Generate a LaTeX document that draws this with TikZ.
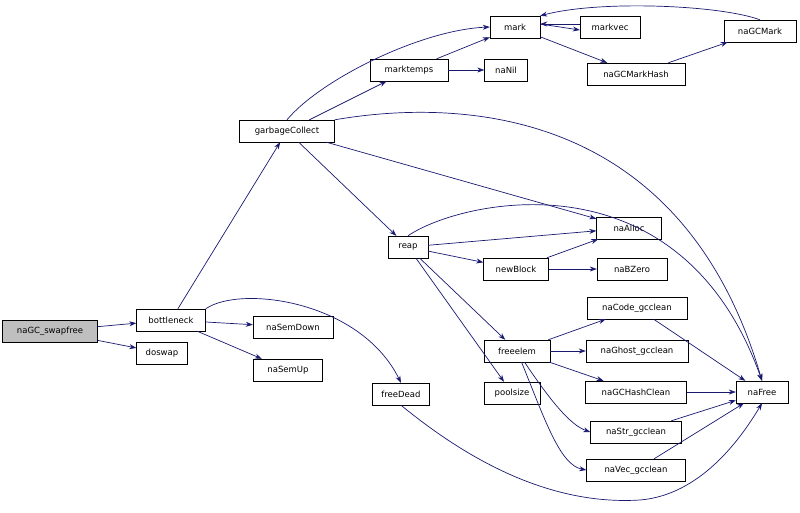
\documentclass[tikz,border=0pt]{standalone}
\usepackage{fontspec}
\setmainfont{DejaVu Sans}
\usetikzlibrary{arrows.meta}
\begin{document}
\begin{tikzpicture}[x=1pt,y=-1pt,
  n/.style={draw=black,fill=white,rectangle,minimum height=22pt,inner sep=2pt,font=\fontsize{8.5}{10}\selectfont},
  e/.style={draw={rgb,255:red,25;green,25;blue,112},-{Stealth[length=7pt,width=5pt]},line width=0.7pt}]
\useasboundingbox (0,0) rectangle (800,512);
\node[n,fill={rgb,255:red,191;green,191;blue,191},minimum width=95pt] (sw) at (50,331) {naGC\_swapfree};
\node[n,minimum width=69pt] (bn) at (171,320) {bottleneck};
\node[n,minimum width=51pt] (ds) at (162,353) {doswap};
\node[n,minimum width=80pt] (sd) at (293,327) {naSemDown};
\node[n,minimum width=69pt] (su) at (288,370) {naSemUp};
\node[n,minimum width=95pt] (gc) at (287,131) {garbageCollect};
\node[n,minimum width=78pt] (mt) at (409,70) {marktemps};
\node[n,minimum width=50pt] (mk) at (515,27) {mark};
\node[n,minimum width=60pt] (mv) at (610,27) {markvec};
\node[n,minimum width=72pt] (gm) at (760,31) {naGCMark};
\node[n,minimum width=98pt] (gmh) at (636,74) {naGCMarkHash};
\node[n,minimum width=43pt] (nil) at (506,70) {naNil};
\node[n,minimum width=65pt] (al) at (629,228) {naAlloc};
\node[n,minimum width=40pt] (rp) at (408,247) {reap};
\node[n,minimum width=65pt] (nb) at (516,269) {newBlock};
\node[n,minimum width=70pt] (bz) at (632,269) {naBZero};
\node[n,minimum width=66pt] (fe) at (517,351) {freeelem};
\node[n,minimum width=56pt] (ps) at (512,393) {poolsize};
\node[n,minimum width=57pt] (fd) at (401,394) {freeDead};
\node[n,minimum width=100pt] (cc) at (637,308) {naCode\_gcclean};
\node[n,minimum width=102pt] (gh) at (637,351) {naGhost\_gcclean};
\node[n,minimum width=101pt] (hc) at (636,392) {naGCHashClean};
\node[n,minimum width=91pt] (sc) at (636,432) {naStr\_gcclean};
\node[n,minimum width=99pt] (vc) at (636,470) {naVec\_gcclean};
\node[n,minimum width=52pt] (fr) at (762,392) {naFree};
\draw[e] (sw) -- (bn);
\draw[e] (sw) -- (ds);
\draw[e] (bn) -- (gc);
\draw[e] (bn) -- (sd);
\draw[e] (bn) -- (su);
\draw[e] (bn.north east) .. controls (240,285) and (360,300) .. (fd.north);
\draw[e] (gc.north) .. controls (320,80) and (420,30) .. (mk.west);
\draw[e] (gc) -- (mt);
\draw[e] (gc.north east) .. controls (450,100) and (680,100) .. (fr.north);
\draw[e] (gc) -- (al);
\draw[e] (gc) -- (rp);
\draw[e] (mt) -- (mk);
\draw[e] (mt) -- (nil);
\draw[e] (mk.east) ++(0,-3) -- ([yshift=-3pt]mv.west);
\draw[e] ([yshift=3pt]mv.west) -- ([yshift=3pt]mk.east);
\draw[e] (mk) -- (gmh);
\draw[e] (gmh) -- (gm);
\draw[e] (gm.north) .. controls (720,5) and (600,0) .. (mk.north east);
\draw[e] (rp.north) .. controls (460,200) and (680,150) .. (fr.north);
\draw[e] (rp) -- (al);
\draw[e] (rp) -- (nb);
\draw[e] (rp) -- (fe);
\draw[e] (rp) -- (ps);
\draw[e] (nb) -- (al);
\draw[e] (nb) -- (bz);
\draw[e] (fe) -- (cc);
\draw[e] (fe) -- (gh);
\draw[e] (fe) -- (hc);
\draw[e] (fe) .. controls (550,400) and (570,425) .. (sc.west);
\draw[e] (fe) .. controls (545,420) and (560,465) .. (vc.west);
\draw[e] (cc) -- (fr);
\draw[e] (hc) -- (fr);
\draw[e] (sc) -- (fr);
\draw[e] (vc) -- (fr);
\draw[e] (fd.south) .. controls (480,470) and (560,505) .. (640,500) .. controls (700,495) and (740,440) .. (fr.south);
\end{tikzpicture}
\end{document}
